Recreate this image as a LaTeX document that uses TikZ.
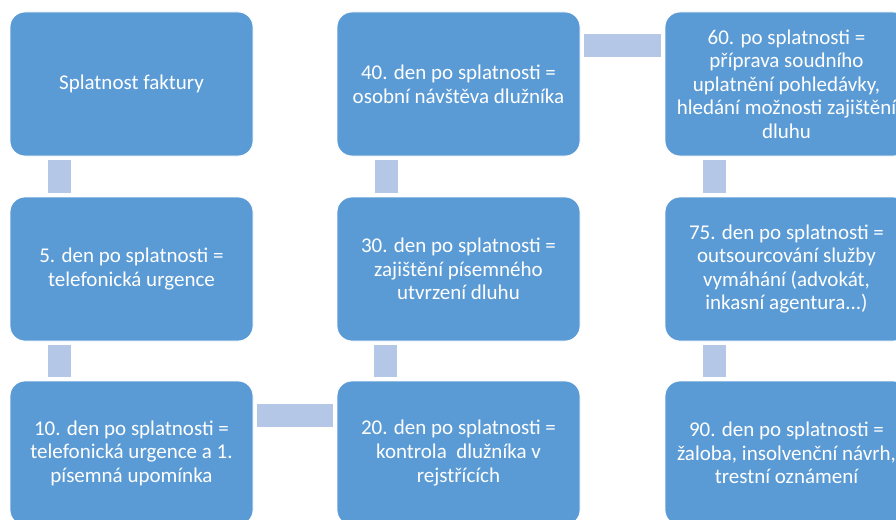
\documentclass[tikz,border=0pt]{standalone}
\usepackage{fontspec}
\setmainfont{Carlito}
\definecolor{boxblue}{HTML}{5B9BD5}
\definecolor{linkblue}{HTML}{B4C7E7}

\begin{document}
\begin{tikzpicture}[x=1pt,y=-1pt]
	\tikzstyle{stage}=[draw=white, line width=0.8pt, fill=boxblue, rounded corners=15pt,
		minimum width=243pt, minimum height=144pt, align=center, text=white,
		font=\fontsize{21pt}{23.6pt}\selectfont]
	\tikzstyle{link}=[draw=linkblue, line width=23pt, shorten <=3.5pt, shorten >=3.5pt]
	\newcommand\Xone{131.5}
	\newcommand\Xtwo{458.5}
	\newcommand\Xthree{786.5}
	\newcommand\Yone{84}
	\newcommand\Ytwo{269}
	\newcommand\Ythree{453}

	\useasboundingbox (0,0) rectangle (896,519);
	\clip (0,0) rectangle (896,519);

	 % First column
	\node [stage] at (\Xone,\Yone) (start) {Splatnost faktury};
	\node [stage] at (\Xone,\Ytwo) (d5) {5. den po splatnosti =\\telefonická urgence};
	\node [stage] at (\Xone,\Ythree) (d10) {10. den po splatnosti =\\telefonická urgence a 1.\\písemná upomínka};

	 % Second column
	\node [stage] at (\Xtwo,\Ythree) (d20) {20. den po splatnosti =\\kontrola\ \ dlužníka v\\rejstřících};
	\node [stage] at (\Xtwo,\Ytwo) (d30) {30. den po splatnosti =\\zajištění písemného\\utvrzení dluhu};
	\node [stage] at (\Xtwo,\Yone) (d40) {40. den po splatnosti =\\osobní návštěva dlužníka};

	 % Third column
	\node [stage] at (\Xthree,\Yone) (d60) {60. po splatnosti =\\příprava soudního\\uplatnění pohledávky,\\hledání možnosti zajištění\\dluhu};
	\node [stage] at (\Xthree,\Ytwo) (d75) {75. den po splatnosti =\\outsourcování služby\\vymáhání (advokát,\\inkasní agentura...)};
	\node [stage] at (\Xthree,\Ythree) (d90) {90. den po splatnosti =\\žaloba, insolvenční návrh,\\trestní oznámení};

	 % Links
	\path [link] ([xshift=-72.5pt]start.south) -- ([xshift=-72.5pt]d5.north);
	\path [link] ([xshift=-72.5pt]d5.south) -- ([xshift=-72.5pt]d10.north);
	\path [link] ([yshift=37.5pt]d10.east) -- ([yshift=37.5pt]d20.west);
	\path [link] ([xshift=-73pt]d20.north) -- ([xshift=-73pt]d30.south);
	\path [link] ([xshift=-72.5pt]d30.north) -- ([xshift=-72.5pt]d40.south);
	\path [link] ([yshift=38pt]d40.east) -- ([yshift=38pt]d60.west);
	\path [link] ([xshift=-72.5pt]d60.south) -- ([xshift=-72.5pt]d75.north);
	\path [link] ([xshift=-72.5pt]d75.south) -- ([xshift=-72.5pt]d90.north);

\end{tikzpicture}
\end{document}
